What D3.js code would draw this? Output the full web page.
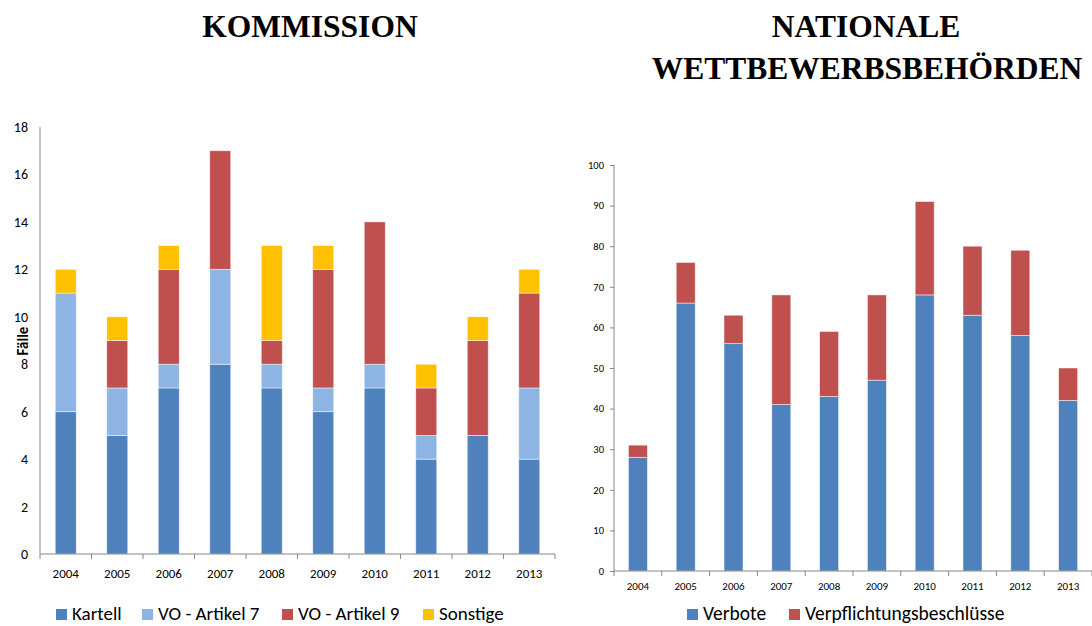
<!DOCTYPE html>
<html><head><meta charset="utf-8">
<script src="https://cdn.jsdelivr.net/npm/d3@7"></script>
<style>
body{margin:0;background:#fff;}
svg{display:block;}
</style></head>
<body>
<svg id="c" width="1092" height="626"></svg>
<script>
const years = ["2004","2005","2006","2007","2008","2009","2010","2011","2012","2013"];
// Left chart: Kommission
const kartell   = [6,5,7,8,7,6,7,4,5,4];
const artikel7  = [5,2,1,4,1,1,1,1,0,3];
const artikel9  = [0,2,4,5,1,5,6,2,4,4];
const sonstige  = [1,1,1,0,4,1,0,1,1,1];
const leftSeries = ["Kartell","VO - Artikel 7","VO - Artikel 9","Sonstige"];
const leftColors = ["#4F81BD","#8EB4E3","#C0504D","#FFC000"];
const leftTicks = [0,2,4,6,8,10,12,14,16,18];
// Right chart: Nationale Wettbewerbsbehörden
const verbote = [28,66,56,41,43,47,68,63,58,42];
const verpflichtung = [3,10,7,27,16,21,23,17,21,8];
const rightSeries = ["Verbote","Verpflichtungsbeschlüsse"];
const rightColors = ["#4F81BD","#C0504D"];
const rightTicks = [0,10,20,30,40,50,60,70,80,90,100];

const svg = d3.select("#c");
const sans = "Calibri, Carlito, 'Open Sans', 'Liberation Sans', sans-serif";
const serif = "'Liberation Serif','Times New Roman',serif";
const axisColor = "#868686";

// Titles
svg.append("text").attr("x",310).attr("y",37).attr("text-anchor","middle")
  .attr("font-family",serif).attr("font-weight","bold").attr("font-size",31.5).text("KOMMISSION");
svg.append("text").attr("x",866).attr("y",37).attr("text-anchor","middle")
  .attr("font-family",serif).attr("font-weight","bold").attr("font-size",31.5).text("NATIONALE");
svg.append("text").attr("x",867).attr("y",79).attr("text-anchor","middle")
  .attr("font-family",serif).attr("font-weight","bold").attr("font-size",31.5).text("WETTBEWERBSBEHÖRDEN");

function drawChart(cfg){
  const g = svg.append("g");
  const x = d3.scaleBand().domain(years).range([cfg.x0,cfg.x1]).paddingInner(0).paddingOuter(0);
  const y = d3.scaleLinear().domain([0,cfg.ymax]).range([cfg.yb,cfg.yt]);
  const rows = years.map((yr,i)=>{const o={year:yr}; cfg.keys.forEach((k,j)=>o[k]=cfg.data[j][i]); return o;});
  const stack = d3.stack().keys(cfg.keys)(rows);
  stack.forEach((layer,j)=>{
    g.append("g").selectAll("rect").data(layer).join("rect")
      .attr("x",d=>x(d.data.year)+(x.bandwidth()-cfg.bw)/2)
      .attr("width",cfg.bw)
      .attr("y",d=>y(d[1]))
      .attr("height",d=>Math.max(0,y(d[0])-y(d[1])))
      .attr("fill",cfg.colors[j])
      .attr("stroke",d=>(d[1]-d[0])>0?"rgba(255,255,255,0.6)":"none")
      .attr("stroke-width",0.8);
  });
  // y axis
  const ya = d3.axisLeft(y).tickValues(cfg.ticks).tickSize(cfg.ytick).tickPadding(cfg.ypad).tickFormat(d3.format("d"));
  const yg = g.append("g").attr("transform",`translate(${cfg.x0},0)`).call(ya);
  yg.select(".domain").attr("stroke",axisColor).attr("d",`M0,${cfg.yt}V${cfg.yb}`);
  yg.selectAll(".tick line").attr("stroke",axisColor);
  yg.selectAll("text").attr("font-family",sans).attr("font-size",cfg.yfs).attr("fill","#000");
  // x axis
  const xg = g.append("g").attr("transform",`translate(0,${cfg.yb})`);
  xg.append("line").attr("x1",cfg.x0).attr("x2",cfg.x1).attr("stroke",axisColor);
  xg.selectAll("line.t").data(years.map(yr=>x(yr)).concat([cfg.x1])).join("line").attr("class","t")
    .attr("x1",d=>d).attr("x2",d=>d).attr("y1",0).attr("y2",5).attr("stroke",axisColor);
  xg.selectAll("text.xl").data(years).join("text").attr("class","xl")
    .attr("x",d=>x(d)+x.bandwidth()/2).attr("y",cfg.xly).attr("text-anchor","middle")
    .attr("font-family",sans).attr("font-size",cfg.xfs).text(d=>d);
  // legend
  const lg = g.append("g");
  cfg.legend.forEach((it,j)=>{
    lg.append("rect").attr("x",it.x).attr("y",cfg.ly-cfg.ls).attr("width",cfg.ls).attr("height",cfg.ls).attr("fill",cfg.colors[j]);
    lg.append("text").attr("x",it.x+cfg.ls+5).attr("y",cfg.ly).attr("font-family",sans)
      .attr("font-size",cfg.lfs).text(cfg.keys[j]);
  });
}

drawChart({
  x0:40,x1:555,yb:554,yt:127,ymax:18,bw:21,
  keys:leftSeries,data:[kartell,artikel7,artikel9,sonstige],colors:leftColors,
  ticks:leftTicks,ytick:0,ypad:12,yfs:14,xfs:13,xly:24,
  ly:620,ls:11,lfs:19,
  legend:[{x:56},{x:142},{x:282},{x:423}]
});
drawChart({
  x0:614,x1:1092,yb:571,yt:165,ymax:100,bw:19,
  keys:rightSeries,data:[verbote,verpflichtung],colors:rightColors,
  ticks:rightTicks,ytick:4,ypad:6,yfs:10.5,xfs:11,xly:19,
  ly:620,ls:11,lfs:19.5,
  legend:[{x:687},{x:789}]
});

// Y axis title (left)
svg.append("text").attr("transform","translate(28,341) rotate(-90)").attr("text-anchor","middle")
  .attr("font-family",sans).attr("font-weight","bold").attr("font-size",15).text("Fälle");
</script>
</body></html>
